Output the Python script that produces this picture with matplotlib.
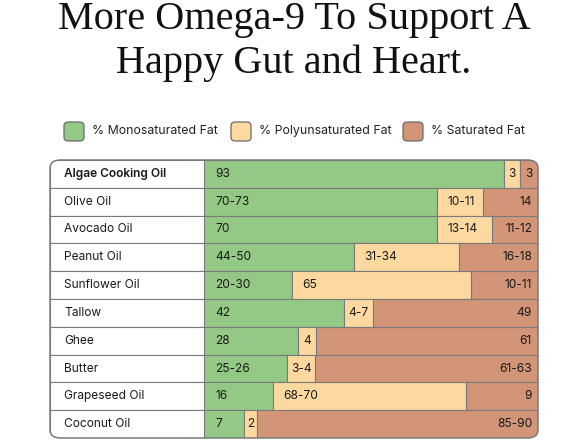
"""Stacked fat-composition table chart: omega-9 comparison of cooking oils."""

import matplotlib

matplotlib.use("Agg", force=True)
import matplotlib.pyplot as plt  # noqa: E402
from matplotlib.patches import FancyBboxPatch  # noqa: E402

oils = ["Algae Cooking Oil", "Olive Oil", "Avocado Oil", "Peanut Oil", "Sunflower Oil",
        "Tallow", "Ghee", "Butter", "Grapeseed Oil", "Coconut Oil"]

# segment widths as drawn (percent of the row)
mono = [89.8, 69.8, 69.8, 44.9, 26.3, 41.9, 28.1, 24.9, 20.7, 12.0]
poly = [4.8, 13.8, 16.5, 31.4, 53.6, 8.7, 5.4, 8.4, 57.8, 3.9]
sat = [5.4, 16.4, 13.7, 23.7, 20.1, 49.4, 66.5, 66.7, 21.5, 84.1]

mono_lbl = ["93", "70-73", "70", "44-50", "20-30", "42", "28", "25-26", "16", "7"]
poly_lbl = ["3", "10-11", "13-14", "31-34", "65", "4-7", "4", "3-4", "68-70", "2"]
sat_lbl = ["3", "14", "11-12", "16-18", "10-11", "49", "61", "61-63", "9", "85-90"]

legend_labels = ["% Monosaturated Fat", "% Polyunsaturated Fat", "% Saturated Fat"]

GREEN = "#94c985"
YELLOW = "#fdd9a0"
SALMON = "#d39577"
EDGE = "#7a7a7a"
FONT = ["Inter", "DejaVu Sans"]

W, H = 588, 441
fig = plt.figure(figsize=(W / 100, H / 100), dpi=100)
fig.patch.set_facecolor("white")


def fx(px):
    return px / W


def fy(py):
    return 1 - py / H


# table geometry in pixels
T_LEFT, T_SPLIT, T_RIGHT = 50, 204, 538
T_TOP, T_BOT = 160, 438

# title
fig.text(0.5, fy(29), "More Omega-9 To Support A", ha="center", va="baseline",
         fontsize=29, family="Liberation Serif", color="#111111")
fig.text(0.5, fy(73), "Happy Gut and Heart.", ha="center", va="baseline",
         fontsize=29, family="Liberation Serif", color="#111111")

# legend
leg_x = [64, 231, 403]
for x0, lbl, col in zip(leg_x, legend_labels, [GREEN, YELLOW, SALMON]):
    sq = FancyBboxPatch((fx(x0), fy(141)), 20 / W, 19 / H,
                        boxstyle="round,pad=0,rounding_size=0.008",
                        transform=fig.transFigure, facecolor=col,
                        edgecolor="#6b6b6b", linewidth=0.9)
    fig.add_artist(sq)
    fig.text(fx(x0 + 28), fy(131.5), lbl, ha="left", va="center",
             fontsize=8.9, family=FONT, color="#222222")

# rounded outline used as clip region
outline = FancyBboxPatch((fx(T_LEFT), fy(T_BOT)), (T_RIGHT - T_LEFT) / W,
                         (T_BOT - T_TOP) / H,
                         boxstyle="round,pad=0,rounding_size=0.018",
                         transform=fig.transFigure, facecolor="none",
                         edgecolor=EDGE, linewidth=1.1, zorder=10)

y = list(range(len(oils)))

# label column
ax_l = fig.add_axes([fx(T_LEFT), fy(T_BOT), (T_SPLIT - T_LEFT) / W, (T_BOT - T_TOP) / H])
ax_l.set_xlim(0, 1)
ax_l.set_ylim(len(oils) - 0.5, -0.5)
ax_l.axis("off")
cells = ax_l.barh(y, [1] * len(oils), height=1.0, color="white", edgecolor=EDGE, linewidth=0.8)
for p in cells:
    p.set_clip_path(outline)
for i, name in enumerate(oils):
    ax_l.text(14 / (T_SPLIT - T_LEFT), i, name, ha="left", va="center",
              fontsize=8.6, family=FONT, color="#1a1a1a",
              fontweight="semibold" if i == 0 else "normal")

# bar area
span = T_RIGHT - T_SPLIT
ax = fig.add_axes([fx(T_SPLIT), fy(T_BOT), span / W, (T_BOT - T_TOP) / H])
ax.set_xlim(0, sum([mono[0], poly[0], sat[0]]))
ax.set_ylim(len(oils) - 0.5, -0.5)
ax.axis("off")

left2 = [m + p for m, p in zip(mono, poly)]
b1 = ax.barh(y, mono, height=1.0, color=GREEN, edgecolor=EDGE, linewidth=0.8)
b2 = ax.barh(y, poly, left=mono, height=1.0, color=YELLOW, edgecolor=EDGE, linewidth=0.8)
b3 = ax.barh(y, sat, left=left2, height=1.0, color=SALMON, edgecolor=EDGE, linewidth=0.8)
for cont in (b1, b2, b3):
    for p in cont:
        p.set_clip_path(outline)

u = 100 / span  # data units per pixel
fs = 8.6
for i in y:
    ax.text(11 * u, i, mono_lbl[i], ha="left", va="center", fontsize=fs, family=FONT, color="#1a1a1a")
    if poly[i] / u > 40:
        ax.text(mono[i] + 10 * u, i, poly_lbl[i], ha="left", va="center", fontsize=fs,
                family=FONT, color="#1a1a1a")
    else:
        ax.text(mono[i] + poly[i] / 2, i, poly_lbl[i], ha="center", va="center", fontsize=fs,
                family=FONT, color="#1a1a1a")
    end = left2[i] + sat[i]
    if sat[i] / u > 25:
        ax.text(end - 6 * u, i, sat_lbl[i], ha="right", va="center", fontsize=fs,
                family=FONT, color="#1a1a1a")
    else:
        ax.text(left2[i] + sat[i] / 2, i, sat_lbl[i], ha="center", va="center", fontsize=fs,
                family=FONT, color="#1a1a1a")

fig.add_artist(outline)

fig.savefig("out.png", dpi=100, facecolor="white")
plt.close(fig)
